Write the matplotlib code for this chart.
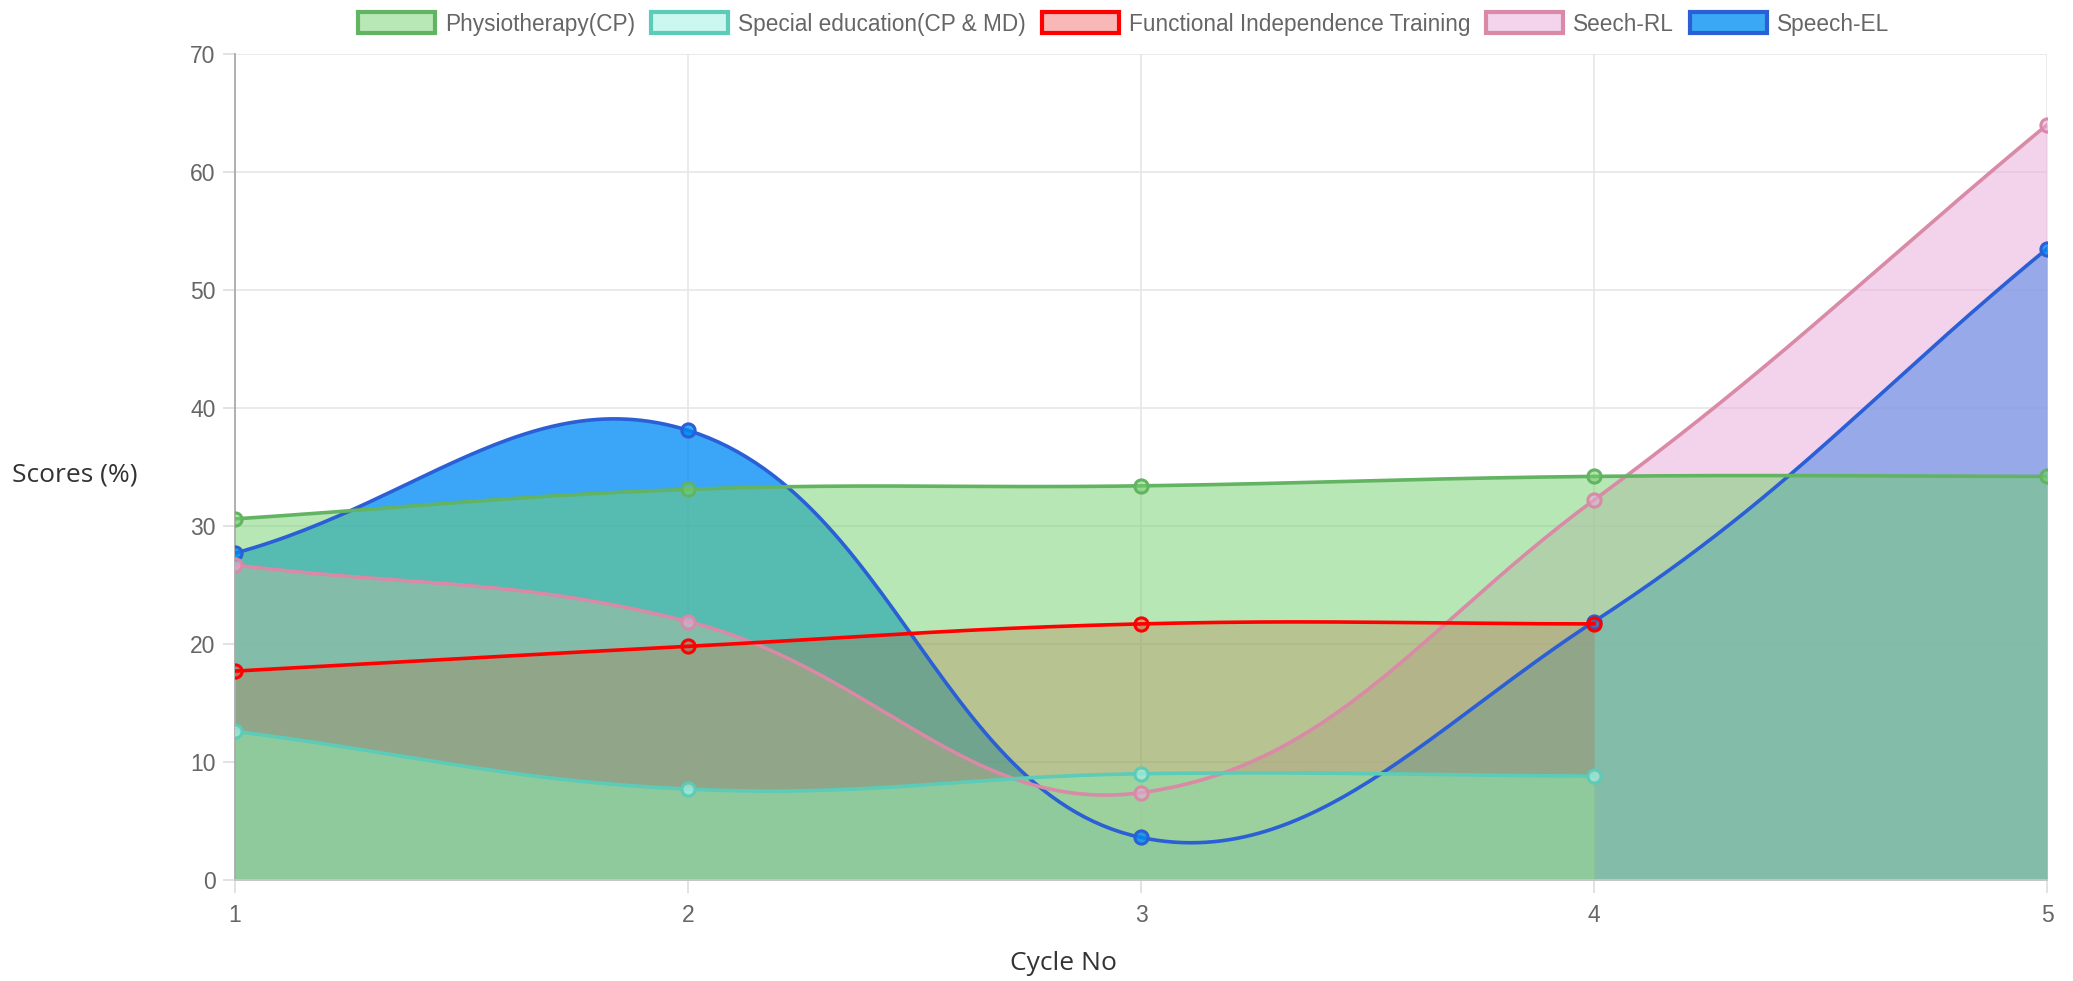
import numpy as np
import matplotlib
matplotlib.use('Agg')
import matplotlib.pyplot as plt
from matplotlib.patches import Rectangle

cycles = [1, 2, 3, 4, 5]
physio = [30.6, 33.1, 33.4, 34.2, 34.2]
special_ed = [12.6, 7.7, 9.0, 8.8]
fit = [17.7, 19.8, 21.7, 21.7]
speech_rl = [26.7, 21.9, 7.4, 32.2, 64.0]
speech_el = [27.7, 38.1, 3.6, 21.9, 53.5]

labels = ['Physiotherapy(CP)', 'Special education(CP & MD)',
          'Functional Independence Training', 'Seech-RL', 'Speech-EL']
fills = [(113/255, 209/255, 107/255, 0.5),
         (173/255, 242/255, 231/255, 0.62),
         (1.0, 0.0, 0.0, 0.28),
         (234/255, 172/255, 219/255, 0.53),
         (0.0, 140/255, 245/255, 0.77)]
lines = ['#62b462', '#5ccbb8', '#ff0000', '#d88aa6', '#2a5fd6']
legend_fill = ['#b8e8b5', '#ccf7f0', '#f9b8b8', '#f4d3ec', '#3aa8f5']

# pixels per data unit (used for chart.js-like spline)
SX, SY = 453.0, 826.0 / 70


def spline(xs, ys, t=0.4, n=60):
    p = np.column_stack([np.array(xs, float) * SX, np.array(ys, float) * SY])
    m = len(p)
    cp_prev, cp_next = [], []
    for i in range(m):
        prv = p[i - 1] if i > 0 else p[i]
        nxt = p[i + 1] if i < m - 1 else p[i]
        d01 = np.hypot(*(p[i] - prv))
        d12 = np.hypot(*(nxt - p[i]))
        tot = d01 + d12
        s01 = d01 / tot if tot else 0
        s12 = d12 / tot if tot else 0
        a = p[i] - t * s01 * (nxt - prv)
        b = p[i] + t * s12 * (nxt - prv)
        a[1] = np.clip(a[1], 0, 70 * SY)
        b[1] = np.clip(b[1], 0, 70 * SY)
        cp_prev.append(a)
        cp_next.append(b)
    out = [p[0]]
    s = np.linspace(0, 1, n)[1:, None]
    for i in range(m - 1):
        P0, P1, P2, P3 = p[i], cp_next[i], cp_prev[i + 1], p[i + 1]
        seg = ((1 - s) ** 3) * P0 + 3 * ((1 - s) ** 2) * s * P1 + 3 * (1 - s) * s ** 2 * P2 + s ** 3 * P3
        out.extend(seg)
    out = np.array(out)
    return out[:, 0] / SX, out[:, 1] / SY


fig = plt.figure(figsize=(20.73, 9.81), dpi=100)
ax = fig.add_axes([0.1134, 0.103, 0.8741, 0.842])

series = [physio, special_ed, fit, speech_rl, speech_el]
# fills first (last dataset at the bottom), then the lines on top
for k in range(len(series) - 1, -1, -1):
    ys = series[k]
    xs = cycles[:len(ys)]
    cx, cy = spline(xs, ys)
    z = 2 + (len(series) - k) * 0.1
    ax.fill_between(cx, cy, 0, color=fills[k], lw=0, zorder=z)
    ax.plot(cx, cy, color=lines[k], lw=2.6, zorder=z + 5)
    ax.plot(xs, ys, 'o', ms=9.5, mfc=fills[k], mec=lines[k], mew=2.2, zorder=z + 5.05)

ax.set_xlim(1, 5)
ax.set_ylim(0, 70)
ax.set_xticks(cycles)
ax.set_yticks(range(0, 71, 10))
ax.grid(True, color='#e6e6e6', lw=1.2, zorder=0)
ax.set_axisbelow(True)
for s in ['top', 'right']:
    ax.spines[s].set_visible(False)
ax.spines['left'].set_color('#aaaaaa')
ax.spines['bottom'].set_color('#c8c8c8')
ax.spines['left'].set_linewidth(1.3)
ax.spines['bottom'].set_linewidth(1.3)
ax.tick_params(axis='both', colors='#dddddd', labelcolor='#666666', labelsize=16.5,
               length=9, width=1.2)
ax.tick_params(axis='x', pad=8)
ax.tick_params(axis='y', pad=5)
for lab in ax.get_xticklabels() + ax.get_yticklabels():
    lab.set_family('Liberation Sans')

fig.text(0.036, 0.516, 'Scores (%)', ha='center', va='center', fontsize=19,
         family='Open Sans', color='#333333')
fig.text(0.513, 0.018, 'Cycle No', ha='center', va='center', fontsize=19,
         family='Open Sans', color='#333333')

handles = [Rectangle((0, 0), 1, 1, facecolor=legend_fill[k], edgecolor=lines[k], lw=3)
           for k in range(len(labels))]
fig.legend(handles, labels, loc='center', bbox_to_anchor=(0.542, 0.9755), ncol=5,
           frameon=False, handlelength=3.4, handleheight=1.05, handletextpad=0.45,
           columnspacing=0.7, prop={'family': 'Liberation Sans', 'size': 16.3},
           labelcolor='#666666')

fig.savefig('out.png', dpi=100)
